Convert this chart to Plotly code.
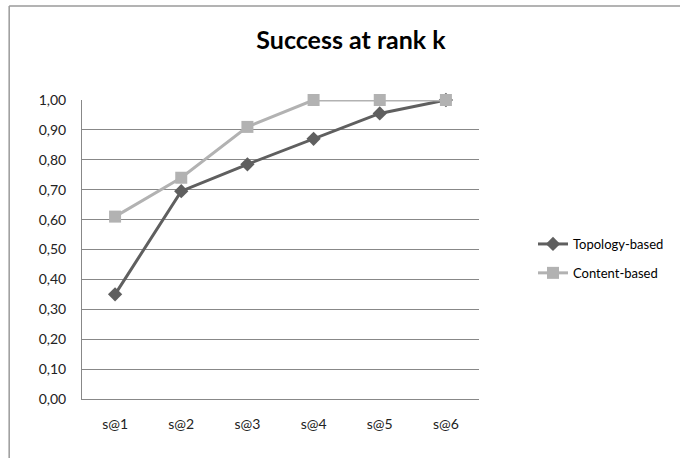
import plotly.graph_objects as go

categories = ["s@1", "s@2", "s@3", "s@4", "s@5", "s@6"]
topology = [0.35, 0.695, 0.785, 0.87, 0.955, 1.00]
content = [0.61, 0.74, 0.91, 1.00, 1.00, 1.00]
y_ticks = [0, 0.1, 0.2, 0.3, 0.4, 0.5, 0.6, 0.7, 0.8, 0.9, 1.0]

W, H = 680, 458
L, R, T, B = 82, 480, 100, 399

fig = go.Figure()
fig.add_trace(go.Scatter(
    x=categories, y=topology, name="Topology-based", mode="lines+markers",
    legendgroup="a", cliponaxis=False,
    line=dict(color="#5f5f5f", width=3),
    marker=dict(symbol="diamond", size=11, color="#5f5f5f"),
))
fig.add_trace(go.Scatter(
    x=categories, y=content, name="Content-based", mode="lines+markers",
    legendgroup="b", cliponaxis=False,
    line=dict(color="#b2b2b2", width=3),
    marker=dict(symbol="square", size=12, color="#b2b2b2"),
))

pw = R - L
ph = B - T
def px(x):
    return (x - L) / pw
def py(y):
    return (B - y) / ph

# outer chart frame (partially cut off at right and bottom)
fig.add_shape(type="line", xref="paper", yref="paper",
              x0=px(9), y0=py(6), x1=px(690), y1=py(6),
              line=dict(color="#9a9a9a", width=1.5))
fig.add_shape(type="line", xref="paper", yref="paper",
              x0=px(9), y0=py(6), x1=px(9), y1=py(470),
              line=dict(color="#9a9a9a", width=1.5))

fig.update_layout(
    width=W, height=H,
    margin=dict(l=L, r=W - R, t=T, b=H - B),
    paper_bgcolor="white", plot_bgcolor="white",
    separators=", ",
    font=dict(family="Lato, 'Open Sans', sans-serif", color="#222222"),
    title=dict(text="<b>Success at rank k</b>", x=351 / W, xanchor="center",
               y=1 - 40 / H, yanchor="middle",
               font=dict(size=25, color="#000000")),
    xaxis=dict(showgrid=False, showline=True, linecolor="#888888", linewidth=1,
               ticks="", tickfont=dict(size=14), range=[-0.5, 5.5],
               ticklabelstandoff=12),
    yaxis=dict(range=[0, 1], tickvals=y_ticks, tickformat=".2f",
               showgrid=True, gridcolor="#888888", gridwidth=1,
               showline=True, linecolor="#888888", linewidth=1,
               ticks="", ticklen=0, tickfont=dict(size=14), zeroline=False,
               ticklabelstandoff=12),
    legend=dict(x=px(533), y=py(229), xanchor="left", yanchor="top",
                font=dict(size=13, color="#000000"),
                tracegroupgap=9, itemwidth=30, bgcolor="rgba(0,0,0,0)"),
    showlegend=True,
)

fig.write_html("out.html")
